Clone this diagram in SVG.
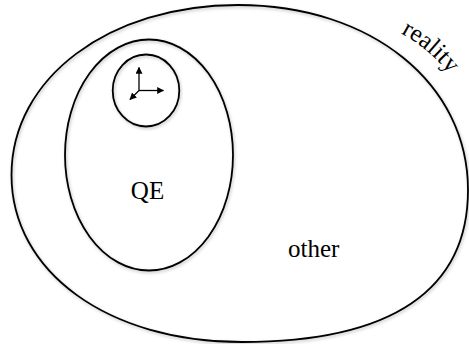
<svg xmlns="http://www.w3.org/2000/svg" width="469" height="344" viewBox="0 0 469 344">
  <defs>
    <style>
      .set { fill: none; stroke: #000; stroke-width: 1.8; }
      .lbl { font-family: "Liberation Serif", "Times New Roman", "DejaVu Serif", serif; font-size: 25px; fill: #000; }
      .axis { stroke: #000; stroke-width: 1.3; fill: none; marker-end: url(#head); }
    </style>
    <filter id="shadow" x="-5%" y="-5%" width="110%" height="110%">
      <feDropShadow dx="1" dy="1.5" stdDeviation="1.5" flood-color="#000" flood-opacity="0.25"/>
    </filter>
    <marker id="head" viewBox="0 0 10 10" refX="9" refY="5" markerWidth="7" markerHeight="7" markerUnits="userSpaceOnUse" orient="auto">
      <path d="M0,0 L10,5 L0,10 Z" fill="#000"/>
    </marker>
    <path id="realityPath" d="M 387 27 Q 434 46 463 94"/>
  </defs>
  <rect width="469" height="344" fill="#fff"/>
  <g id="reality">
    <path class="set" filter="url(#shadow)" d="M 238 5 C 372 5 468 84 468 190 C 468 290 392 342 242 342 C 108 342 11.5 272 11.5 175 C 11.5 78 109 5 238 5 Z"/>
    <text class="lbl" font-family="Liberation Serif, serif" font-size="24"><textPath href="#realityPath" startOffset="15">reality</textPath></text>
    <text class="lbl" font-family="Liberation Serif, serif" x="288" y="257">other</text>
  </g>
  <g id="QE">
    <ellipse class="set" filter="url(#shadow)" cx="149" cy="155" rx="84" ry="115.5"/>
    <text class="lbl" font-family="Liberation Serif, serif" x="147.5" y="199" text-anchor="middle">QE</text>
  </g>
  <g id="frame">
    <ellipse class="set" filter="url(#shadow)" cx="146" cy="90.5" rx="33.3" ry="36"/>
  </g>
  <g id="connectors">
    <line class="axis" x1="139" y1="90.5" x2="139" y2="67.5"/>
    <line class="axis" x1="139" y1="90.5" x2="163.5" y2="90.5"/>
    <line class="axis" x1="139" y1="90.5" x2="130" y2="99.5"/>
  </g>
</svg>
